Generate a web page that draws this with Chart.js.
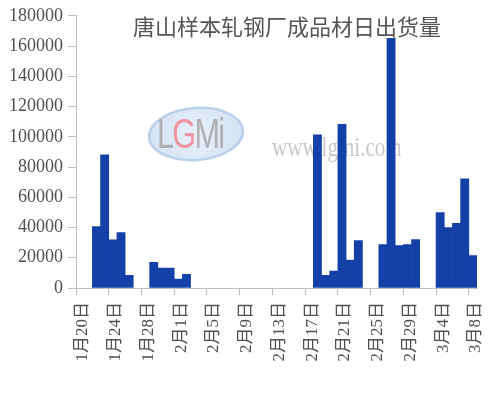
<!DOCTYPE html>
<html>
<head>
<meta charset="utf-8">
<script src="https://cdn.jsdelivr.net/npm/chart.js@4"></script>
<style>
  html, body { margin: 0; padding: 0; background: #fff; }
</style>
</head>
<body>
<canvas id="myChart" width="499" height="394"></canvas>
<script>
const TITLE = '唐山样本轧钢厂成品材日出货量';

const DATES = [
  '1月20日', '1月21日', '1月22日', '1月23日', '1月24日', '1月25日', '1月26日', '1月27日',
  '1月28日', '1月29日', '1月30日', '1月31日',
  '2月1日', '2月2日', '2月3日', '2月4日', '2月5日', '2月6日', '2月7日', '2月8日',
  '2月9日', '2月10日', '2月11日', '2月12日', '2月13日', '2月14日', '2月15日', '2月16日',
  '2月17日', '2月18日', '2月19日', '2月20日', '2月21日', '2月22日', '2月23日', '2月24日',
  '2月25日', '2月26日', '2月27日', '2月28日', '2月29日',
  '3月1日', '3月2日', '3月3日', '3月4日', '3月5日', '3月6日', '3月7日', '3月8日'
];

const SHIPMENTS = [
  null, null, 40600, 88000, 31800, 36600, 8400, null,
  null, 16900, 13200, 13200,
  5900, 9000, null, null, null, null, null, null,
  null, null, null, null, null, null, null, null,
  null, 101300, 8400, 11200, 108300, 18400, 31400, null,
  null, 28700, 165100, 28100, 28700,
  32000, null, null, 49800, 39900, 42800, 72200, 21500
];

// every 4th date gets a label
const X_TICK_STEP = 4;
const Y_MAX = 180000;
const Y_STEP = 20000;

const TEXT = '#505050';
const AXIS = '#bfbfbf';
const BAR = '#1441a8';
const SERIF = '"Liberation Serif", "DejaVu Serif", "Noto Sans CJK SC", serif';

const watermark = {
  id: 'watermark',
  beforeDatasetsDraw(chart) {
    const ctx = chart.ctx;
    ctx.save();
    // logo ellipse
    const cx = 196, cy = 134;
    const g = ctx.createRadialGradient(cx, cy, 5, cx, cy, 50);
    g.addColorStop(0, 'rgba(228,237,249,0.9)');
    g.addColorStop(1, 'rgba(200,218,240,0.8)');
    ctx.fillStyle = g;
    ctx.beginPath();
    ctx.ellipse(cx, cy, 47, 26, -0.08, 0, Math.PI * 2);
    ctx.fill();
    ctx.strokeStyle = 'rgba(180,205,235,0.9)';
    ctx.lineWidth = 2.5;
    ctx.stroke();
    ctx.save();
    ctx.translate(157, 136);
    ctx.scale(0.85, 1.2);
    ctx.font = '36px "Liberation Sans", sans-serif';
    ctx.textBaseline = 'middle';
    ctx.textAlign = 'left';
    const parts = [['L', 'rgba(170,170,170,0.9)'], ['G', 'rgba(240,140,150,0.9)'], ['M', 'rgba(170,170,170,0.9)'], ['i', 'rgba(170,170,170,0.9)']];
    let x = 0;
    parts.forEach(([ch, col]) => {
      ctx.fillStyle = col;
      ctx.fillText(ch, x, 0);
      x += ctx.measureText(ch).width - 2;
    });
    ctx.restore();
    // site text
    ctx.save();
    ctx.translate(272, 149);
    ctx.scale(0.78, 1);
    ctx.font = '27px "Liberation Serif", serif';
    ctx.fillStyle = 'rgba(195,195,195,0.9)';
    ctx.textBaseline = 'middle';
    ctx.fillText('www.lgmi.com', 0, 0);
    ctx.restore();
    ctx.restore();
  },
  afterDraw(chart) {
    const ctx = chart.ctx;
    ctx.save();
    ctx.font = '22px "Noto Sans CJK SC", sans-serif';
    ctx.fillStyle = '#555555';
    ctx.textAlign = 'center';
    ctx.textBaseline = 'middle';
    ctx.fillText(TITLE, 287, 27);
    ctx.restore();
  }
};

const points = SHIPMENTS.map((v, i) => ({ x: i + 0.5, y: v }));

new Chart(document.getElementById('myChart'), {
  type: 'bar',
  data: {
    datasets: [{
      label: TITLE,
      data: points,
      backgroundColor: BAR,
      borderWidth: 0,
      barPercentage: 1,
      categoryPercentage: 1
    }]
  },
  options: {
    responsive: false,
    animation: false,
    layout: { padding: { top: 13, right: 22, left: 0, bottom: 0 } },
    plugins: {
      legend: { display: false },
      tooltip: { enabled: false }
    },
    scales: {
      x: {
        type: 'linear',
        offset: false,
        min: 0,
        max: DATES.length,
        afterBuildTicks: (scale) => {
          const t = [];
          for (let i = 0; i < DATES.length; i += X_TICK_STEP) t.push({ value: i });
          scale.ticks = t;
        },
        afterFit: (scale) => {
          scale.height = 106;
          scale.paddingLeft = 0;
          scale.paddingRight = 0;
        },
        grid: { offset: false, drawOnChartArea: false, drawTicks: true, tickLength: 7, color: AXIS },
        border: { display: true, color: AXIS },
        ticks: {
          autoSkip: false,
          minRotation: 90,
          maxRotation: 90,
          padding: 7,
          labelOffset: 7,
          color: TEXT,
          font: { family: SERIF, size: 17 },
          callback: (v) => DATES[v]
        }
      },
      y: {
        min: 0,
        max: Y_MAX,
        afterFit: (scale) => { scale.width = 76; },
        grid: { drawOnChartArea: false, drawTicks: true, tickLength: 8, color: AXIS },
        border: { display: true, color: AXIS },
        ticks: {
          stepSize: Y_STEP,
          padding: 5,
          color: TEXT,
          font: { family: SERIF, size: 18 },
          callback: (v) => String(v)
        }
      }
    }
  },
  plugins: [watermark]
});
</script>
</body>
</html>
